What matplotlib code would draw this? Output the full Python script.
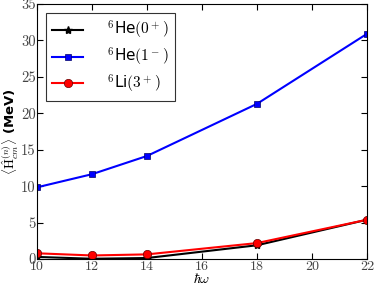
import matplotlib
matplotlib.use("Agg")
import matplotlib.pyplot as plt

plt.rcParams['mathtext.fontset'] = 'cm'

hw = [10, 12, 14, 18, 22]
he0 = [0.3, 0.05, 0.15, 1.9, 5.4]
he1 = [9.85, 11.65, 14.15, 21.3, 30.9]
li3 = [0.8, 0.5, 0.65, 2.2, 5.4]
labels = [r'$^6$He$(0^+)$', r'$^6$He$(1^-)$', r'$^6$Li$(3^+)$']
xticks = [10, 12, 14, 16, 18, 20, 22]
yticks = [0, 5, 10, 15, 20, 25, 30, 35]

fig = plt.figure(figsize=(3.74, 2.86), dpi=100)
ax = fig.add_axes([0.099, 0.094, 0.882, 0.892])
ax.plot(hw, he0, '-*', color='black', lw=1.5, ms=6, label=labels[0])
ax.plot(hw, he1, '-s', color='blue', lw=1.5, ms=5, mec='#000066', mew=0.5, label=labels[1])
ax.plot(hw, li3, '-o', color='red', lw=1.5, ms=6, mec='#660000', mew=0.5, label=labels[2])
ax.set_xlim(10, 22)
ax.set_ylim(0, 35)
ax.set_xticks(xticks)
ax.set_yticks(yticks)
ax.set_xticklabels([str(t) for t in xticks], fontfamily='cmr10', fontsize=10, color='#444444')
ax.set_yticklabels([str(t) for t in yticks], fontfamily='cmr10', fontsize=10.5, color='#444444')
ax.tick_params(direction='in', length=4, pad=1, top=True, right=True)
ax.set_xlabel(r'$\hbar\omega$', fontsize=10, labelpad=-0.5)
ax.set_ylabel(r'$\langle\hat{\rm H}_{cm}^{(n)}\rangle$ (MeV)', fontsize=9.5, fontweight='bold', labelpad=0)
leg = ax.legend(loc='upper left', fontsize=11, fancybox=False, edgecolor='black',
                handlelength=2.0, borderpad=0.4, labelspacing=0.3, handletextpad=1.6,
                borderaxespad=0.6)
leg.get_frame().set_linewidth(0.8)
fig.savefig('out.png', dpi=100)
